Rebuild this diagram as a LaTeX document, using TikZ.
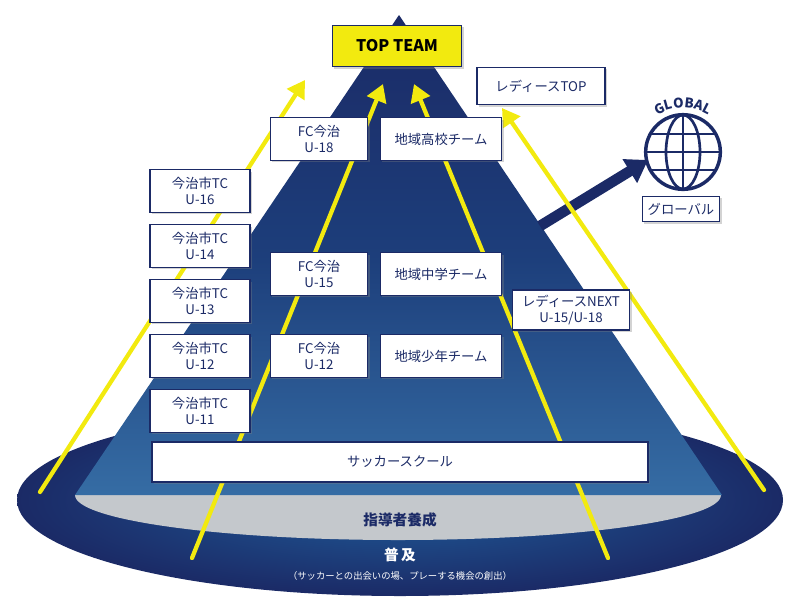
\documentclass[tikz,border=0pt]{standalone}
\usepackage{fontspec}
\setmainfont{Noto Sans CJK JP}
\usetikzlibrary{arrows.meta,shadows,decorations.text,positioning}
\definecolor{navy}{HTML}{1B2A66}
\definecolor{midblue}{HTML}{1F5C9A}
\definecolor{yel}{HTML}{F2EA0F}
\definecolor{lgray}{HTML}{C4C8CC}
\tikzset{
	box/.style={draw=navy, line width=1.1pt, fill=white, align=center, text=navy,
		font=\fontsize{10}{11.5}\selectfont, inner sep=1pt,
		drop shadow={shadow xshift=1.5pt, shadow yshift=-1.5pt, opacity=.35}},
	tcbox/.style={box, minimum width=75pt, minimum height=32pt},
	fcbox/.style={box, minimum width=73pt, minimum height=32pt},
	areabox/.style={box, minimum width=91pt, minimum height=32pt},
	rise/.style={yel, line width=3.2pt, -{Triangle[width=15pt,length=13pt]}},
}
\begin{document}
\begin{tikzpicture}[x=0.75pt, y=-0.75pt]
	\path[use as bounding box] (0,0) rectangle (800,612);
	% base ellipse and coach layer
	\shade[inner color=midblue, outer color=navy] (400,500) ellipse [x radius=383, y radius=96];
	\begin{scope}
		\clip (0,495) rectangle (800,612);
		\fill[lgray] (398,495) ellipse [x radius=323, y radius=45];
	\end{scope}
	% pyramid
	\shade[top color=navy, bottom color=midblue!90!white, middle color=navy!60!midblue]
		(399,15) -- (722,495) -- (75,495) -- cycle;
	% arrow to the globe
	\coordinate (gstart) at (540,226);
	\coordinate (gend) at (648,160);
	\draw[navy, line width=8pt, -{Triangle[width=20pt,length=16pt]}] (gstart) -- (gend);
	% rising arrows
	\coordinate (a1) at (40,492);   \coordinate (h1) at (305,80);
	\coordinate (a2) at (192,558);  \coordinate (h2) at (383,84);
	\coordinate (a3) at (608,558);  \coordinate (h3) at (414,84);
	\coordinate (a4) at (764,490);  \coordinate (h4) at (502,108);
	\foreach \s/\e in {a1/h1, a2/h2, a3/h3, a4/h4}
		\draw[rise, line cap=round] (\s) -- (\e);
	% boxes
	\node (top) [box, fill=yel, minimum width=97pt, minimum height=31pt,
		font=\fontsize{12}{14}\selectfont\bfseries, text=black] at (397,46) {TOP TEAM};
	\node (ltop) [box, minimum width=96pt, minimum height=28pt] at (541,86) {レディースTOP};
	\node (fc18) [fcbox] at (319,139) {FC今治\\U-18};
	\node (hs) [areabox] at (441,139) {地域高校チーム};
	\node (tc16) [tcbox] at (200,191) {今治市TC\\U-16};
	\node (tc14) [tcbox] at (200,246) {今治市TC\\U-14};
	\node (tc13) [tcbox] at (200,301) {今治市TC\\U-13};
	\node (tc12) [tcbox] at (200,356) {今治市TC\\U-12};
	\node (tc11) [tcbox] at (200,411) {今治市TC\\U-11};
	\node (fc15) [fcbox] at (319,274) {FC今治\\U-15};
	\node (jhs) [areabox] at (441,274) {地域中学チーム};
	\node (fc12) [fcbox] at (319,356) {FC今治\\U-12};
	\node (youth) [areabox] at (441,356) {地域少年チーム};
	\node (lnext) [box, minimum width=88pt, minimum height=30pt] at (571,310) {レディースNEXT\\U-15/U-18};
	\node (school) [box, minimum width=372pt, minimum height=30pt] at (400,462) {サッカースクール};
	% globe
	\node (globe) [circle, draw=navy, line width=2.6pt, minimum size=56pt, inner sep=0pt] at (683,152) {};
	\begin{scope}[navy, line width=2pt]
		\clip (683,152) circle [radius=37];
		\draw (683,152) ellipse [x radius=17, y radius=37];
		\draw (646,152) -- (720,152);
		\draw (683,112) -- (683,192);
		\draw (646,134) -- (720,134);
		\draw (646,170) -- (720,170);
	\end{scope}
	\path[decorate, decoration={text along path, text align=center,
		text={|\fontsize{10}{10}\selectfont\bfseries\color{navy}|GLOBAL}}]
		(645.3,125.9) arc [start angle=215, end angle=325, x radius=46, y radius=42];
	\node (glabel) [box, minimum width=58pt, minimum height=19pt, drop shadow={opacity=0}] at (681,209) {グローバル};
	% base texts
	\node (coach) [text=navy, font=\fontsize{11}{13}\selectfont\bfseries] at (400,520) {指導者養成};
	\node (spread) [text=white, font=\fontsize{11}{13}\selectfont\bfseries] at (400,555) {普\,及};
	\node (spreadsub) [text=white, font=\fontsize{7}{8}\selectfont, below=0pt of spread] {（サッカーとの出会いの場、プレーする機会の創出）};
\end{tikzpicture}
\end{document}
